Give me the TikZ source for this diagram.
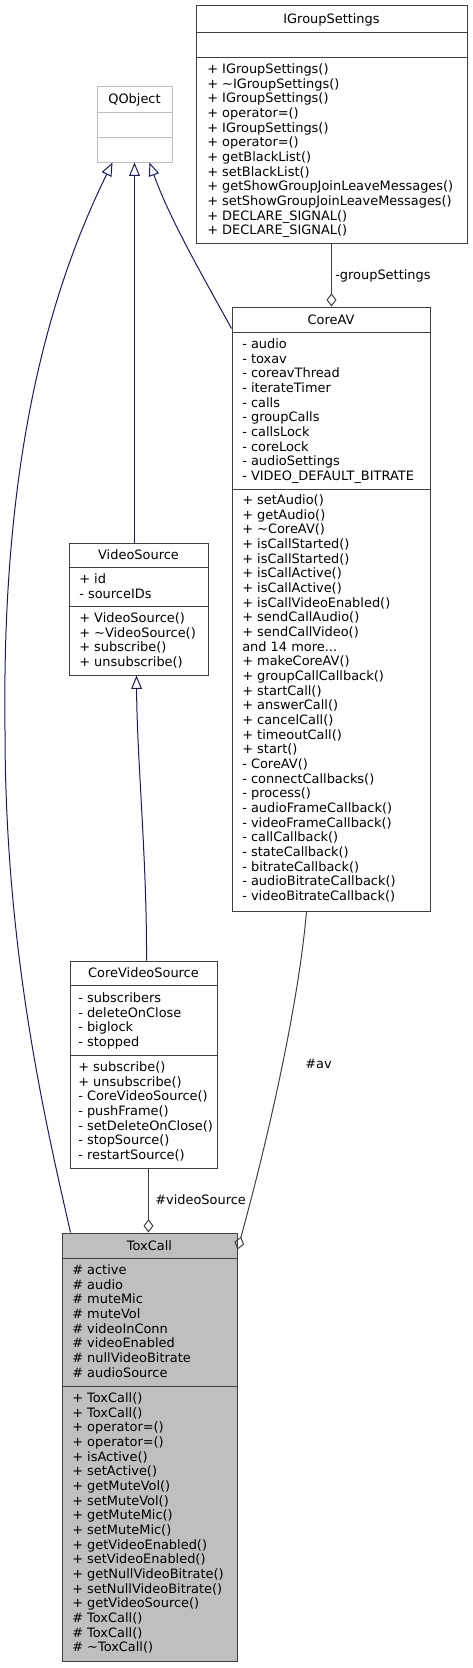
\documentclass[tikz,border=0pt]{standalone}
\usepackage{fontspec}
\setmainfont{DejaVu Sans}
\usepackage{xcolor}
\usepackage{tikz}
\usetikzlibrary{arrows.meta,calc,fit}
\definecolor{boxline}{HTML}{404040}
\definecolor{undocline}{HTML}{BFBFBF}
\definecolor{focusfill}{HTML}{BFBFBF}
\definecolor{inheritblue}{HTML}{191970}
\definecolor{usagegray}{HTML}{404040}

\begin{document}
\begin{tikzpicture}[
  x=0.75pt, y=-0.75pt,
  font=\fontsize{9.7}{11}\selectfont,
  cls/.style={draw=boxline, line width=0.75pt, inner sep=0pt},
  undoc/.style={cls, draw=undocline},
  focus/.style={cls, fill=focusfill},
  sep/.style={draw=boxline, line width=0.75pt},
  title/.style={anchor=base, inner sep=0pt},
  members/.style={anchor=north west, align=left, inner sep=0pt},
  inherit/.style={draw=inheritblue, line width=0.75pt,
                  -{Triangle[open, length=10pt, width=8pt]}},
  usage/.style={draw=usagegray, line width=0.75pt,
                -{Diamond[open, length=10pt, width=7.5pt]}},
  elabel/.style={anchor=base west, inner sep=0pt}
]
\useasboundingbox (0,0) rectangle (473,1668);

% Class boxes
\node[cls, fit={(196,5) (467,243)}] (igroup) {};
\node[undoc, fit={(97,86) (172,162)}] (qobject) {};
\node[cls, fit={(232,307) (430,911)}] (coreav) {};
\node[cls, fit={(69,543) (208,675)}] (videosrc) {};
\node[cls, fit={(70,961) (217,1168)}] (corevideo) {};
\node[focus, fit={(62,1233) (237,1661)}] (toxcall) {};

% IGroupSettings
\node[title] (igroup-t) at (331.5,23) {IGroupSettings};
\draw[sep] (igroup.west |- 0,32) -- (igroup.east |- 0,32);
\draw[sep] (igroup.west |- 0,57) -- (igroup.east |- 0,57);
\node[members] (igroup-m) at (207,63.4) {%
  + IGroupSettings()\\
  + \textasciitilde IGroupSettings()\\
  + IGroupSettings()\\
  + operator=()\\
  + IGroupSettings()\\
  + operator=()\\
  + getBlackList()\\
  + setBlackList()\\
  + getShowGroupJoinLeaveMessages()\\
  + setShowGroupJoinLeaveMessages()\\
  + DECLARE\_SIGNAL()\\
  + DECLARE\_SIGNAL()};

% QObject
\node[title] (qobject-t) at (134.5,103.5) {QObject};
\draw[sep, draw=undocline] (qobject.west |- 0,112) -- (qobject.east |- 0,112);
\draw[sep, draw=undocline] (qobject.west |- 0,137) -- (qobject.east |- 0,137);

% CoreAV
\node[title] (coreav-t) at (331,324) {CoreAV};
\draw[sep] (coreav.west |- 0,332) -- (coreav.east |- 0,332);
\draw[sep] (coreav.west |- 0,489) -- (coreav.east |- 0,489);
\node[members] (coreav-a) at (242,338.4) {%
  - audio\\
  - toxav\\
  - coreavThread\\
  - iterateTimer\\
  - calls\\
  - groupCalls\\
  - callsLock\\
  - coreLock\\
  - audioSettings\\
  - VIDEO\_DEFAULT\_BITRATE};
\node[members] (coreav-m) at (242,494.4) {%
  + setAudio()\\
  + getAudio()\\
  + \textasciitilde CoreAV()\\
  + isCallStarted()\\
  + isCallStarted()\\
  + isCallActive()\\
  + isCallActive()\\
  + isCallVideoEnabled()\\
  + sendCallAudio()\\
  + sendCallVideo()\\
  and 14 more...\\
  + makeCoreAV()\\
  + groupCallCallback()\\
  + startCall()\\
  + answerCall()\\
  + cancelCall()\\
  + timeoutCall()\\
  + start()\\
  - CoreAV()\\
  - connectCallbacks()\\
  - process()\\
  - audioFrameCallback()\\
  - videoFrameCallback()\\
  - callCallback()\\
  - stateCallback()\\
  - bitrateCallback()\\
  - audioBitrateCallback()\\
  - videoBitrateCallback()};

% VideoSource
\node[title] (videosrc-t) at (138.5,559.5) {VideoSource};
\draw[sep] (videosrc.west |- 0,567) -- (videosrc.east |- 0,567);
\draw[sep] (videosrc.west |- 0,606) -- (videosrc.east |- 0,606);
\node[members] (videosrc-a) at (79,573.4) {%
  + id\\
  - sourceIDs};
\node[members] (videosrc-m) at (79,612.4) {%
  + VideoSource()\\
  + \textasciitilde VideoSource()\\
  + subscribe()\\
  + unsubscribe()};

% CoreVideoSource
\node[title] (corevideo-t) at (143.5,977.5) {CoreVideoSource};
\draw[sep] (corevideo.west |- 0,985) -- (corevideo.east |- 0,985);
\draw[sep] (corevideo.west |- 0,1055) -- (corevideo.east |- 0,1055);
\node[members] (corevideo-a) at (78,992.4) {%
  - subscribers\\
  - deleteOnClose\\
  - biglock\\
  - stopped};
\node[members] (corevideo-m) at (78,1061.4) {%
  + subscribe()\\
  + unsubscribe()\\
  - CoreVideoSource()\\
  - pushFrame()\\
  - setDeleteOnClose()\\
  - stopSource()\\
  - restartSource()};

% ToxCall
\node[title] (toxcall-t) at (149.5,1250) {ToxCall};
\draw[sep] (toxcall.west |- 0,1258) -- (toxcall.east |- 0,1258);
\draw[sep] (toxcall.west |- 0,1386) -- (toxcall.east |- 0,1386);
\node[members] (toxcall-a) at (72,1264.4) {%
  \# active\\
  \# audio\\
  \# muteMic\\
  \# muteVol\\
  \# videoInConn\\
  \# videoEnabled\\
  \# nullVideoBitrate\\
  \# audioSource};
\node[members] (toxcall-m) at (72,1392.4) {%
  + ToxCall()\\
  + ToxCall()\\
  + operator=()\\
  + operator=()\\
  + isActive()\\
  + setActive()\\
  + getMuteVol()\\
  + setMuteVol()\\
  + getMuteMic()\\
  + setMuteMic()\\
  + getVideoEnabled()\\
  + setVideoEnabled()\\
  + getNullVideoBitrate()\\
  + setNullVideoBitrate()\\
  + getVideoSource()\\
  \# ToxCall()\\
  \# ToxCall()\\
  \# \textasciitilde ToxCall()};

% Inheritance from QObject
\draw[inherit] ($(toxcall.north west)+(9,0)$)
  .. controls (45,1120) and (5,950) .. (5,730)
  .. controls (2,500) and (35,320) .. ($(qobject.south west)+(16,0)$);
\draw[inherit] ($(videosrc.north west)+(66,0)$) -- ($(qobject.south west)+(38,0)$);
\draw[inherit] ($(coreav.north west)+(0,22)$)
  .. controls (205,280) and (170,220) .. ($(qobject.south west)+(53,0)$);
\draw[inherit] ($(corevideo.north west)+(77,0)$)
  .. controls (147,860) and (137,760) .. ($(videosrc.south west)+(68,0)$);

% Usage (members)
\draw[usage] ($(igroup.south west)+(136,0)$) -- ($(coreav.north west)+(100,0)$);
\node[elabel] (lbl-group) at (335,279.5) {-groupSettings};
\draw[usage] ($(corevideo.south west)+(79,0)$) -- ($(toxcall.north west)+(87,0)$);
\node[elabel] (lbl-video) at (155,1204.5) {\#videoSource};
\draw[usage] ($(coreav.south west)+(75,0)$)
  .. controls (298,1010) and (265,1150) .. ($(toxcall.north east)+(0,17)$);
\node[elabel] (lbl-av) at (305,1068.5) {\#av};

\end{tikzpicture}
\end{document}
